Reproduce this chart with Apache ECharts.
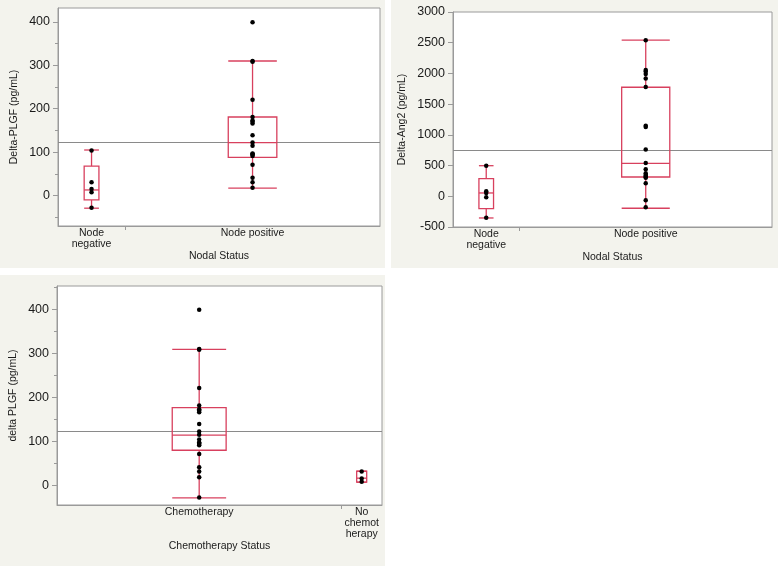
<!DOCTYPE html>
<html><head><meta charset="utf-8">
<script src="https://cdn.jsdelivr.net/npm/echarts@6/dist/echarts.min.js"></script>
<style>html,body{margin:0;padding:0;background:#fff}#c{width:778px;height:566px}</style>
</head><body><div id="c"></div>
<script>
// ---------- Panel 1: Delta-PLGF by nodal status ----------
const p1Categories = ['Node\nnegative', 'Node positive'];
const p1Counts = [5, 19];
const p1NegPoints = [104, 31, 15, 8, -28];
const p1PosPoints = [18, 31, 41, 71, 91, 94, 96, 97, 115, 122, 139, 166, 170, 173, 181, 221, 308, 310, 399];
// box stats: low whisker, q1, median, q3, high whisker
const p1NegBox = [-29, -10, 13, 68, 105];
const p1PosBox = [17, 88, 122, 181, 310];
const p1Mean = 123;
const p1YRange = [-70, 432];
const p1YMajor = [0, 100, 200, 300, 400];
const p1YMinor = [-50, 0, 50, 100, 150, 200, 250, 300, 350, 400];
const p1YTitle = 'Delta-PLGF (pg/mL)';
const p1XTitle = 'Nodal Status';

// ---------- Panel 2: Delta-Ang2 by nodal status ----------
const p2Categories = ['Node\nnegative', 'Node positive'];
const p2Counts = [5, 19];
const p2NegPoints = [497, 82, 54, -16, -350];
const p2PosPoints = [-180, -65, 211, 300, 314, 330, 347, 374, 439, 540, 760, 1129, 1150, 1780, 1916, 1992, 2030, 2057, 2540];
const p2NegBox = [-353, -202, 54, 287, 498];
const p2PosBox = [-195, 314, 537, 1775, 2541];
const p2Mean = 754;
const p2YRange = [-500, 3000];
const p2YMajor = [-500, 0, 500, 1000, 1500, 2000, 2500, 3000];
const p2YMinor = [];
const p2YTitle = 'Delta-Ang2 (pg/mL)';
const p2XTitle = 'Nodal Status';

// ---------- Panel 3: delta PLGF by chemotherapy status ----------
const p3Categories = ['Chemotherapy', 'No\nchemot\nherapy'];
const p3Counts = [21, 3];
const p3ChemoPoints = [-28, 18, 31, 41, 71, 91, 94, 96, 97, 104, 115, 122, 139, 166, 170, 173, 181, 221, 308, 310, 399];
const p3NoChemoPoints = [8, 15, 31];
const p3ChemoBox = [-29, 79.5, 114, 176.6, 309];
const p3NoChemoBox = [6.8, 6.8, 16, 31.8, 31.8];
const p3Mean = 123;
const p3YRange = [-45, 453];
const p3YMajor = [0, 100, 200, 300, 400];
const p3YMinor = [0, 50, 100, 150, 200, 250, 300, 350, 400, 450];
const p3YTitle = 'delta PLGF (pg/mL)';
const p3XTitle = 'Chemotherapy Status';

// ---------- styling / layout ----------
const RED = '#d8405e';
const AXIS_GRAY = '#9a9a9a';
const MEAN_GRAY = '#8a8a8a';
const TEXT = '#1a1a1a';
const FONT = '"Liberation Sans", Arial, Helvetica, sans-serif';
const PANEL_BG = '#f3f3ed';

const panels = [
  { cats: p1Categories, counts: p1Counts, points: [p1NegPoints, p1PosPoints], boxes: [p1NegBox, p1PosBox],
    mean: p1Mean, yRange: p1YRange, yMajor: p1YMajor, yMinor: p1YMinor, yName: p1YTitle, xName: p1XTitle,
    grid: { left: 58, top: 8, width: 322, height: 218 }, yNameGap: 38, xNameGap: 24 },
  { cats: p2Categories, counts: p2Counts, points: [p2NegPoints, p2PosPoints], boxes: [p2NegBox, p2PosBox],
    mean: p2Mean, yRange: p2YRange, yMajor: p2YMajor, yMinor: p2YMinor, yName: p2YTitle, xName: p2XTitle,
    grid: { left: 453, top: 12, width: 319, height: 215 }, yNameGap: 45, xNameGap: 24 },
  { cats: p3Categories, counts: p3Counts, points: [p3ChemoPoints, p3NoChemoPoints], boxes: [p3ChemoBox, p3NoChemoBox],
    mean: p3Mean, yRange: p3YRange, yMajor: p3YMajor, yMinor: p3YMinor, yName: p3YTitle, xName: p3XTitle,
    grid: { left: 57, top: 286, width: 325, height: 219 }, yNameGap: 38, xNameGap: 35 }
];

function boxRender(params, api) {
  const xc = api.value(0), n = api.value(6);
  const hw = (0.18 * n + 0.2) / 2;
  const xL = api.coord([xc - hw, 0])[0];
  const xR = api.coord([xc + hw, 0])[0];
  const xM = api.coord([xc, 0])[0];
  const y = (i) => api.coord([xc, api.value(i)])[1];
  const yLow = y(1), yQ1 = y(2), yMed = y(3), yQ3 = y(4), yHigh = y(5);
  const st = { stroke: RED, lineWidth: 1.3, fill: null };
  return {
    type: 'group',
    children: [
      { type: 'line', shape: { x1: xM, y1: yQ3, x2: xM, y2: yHigh }, style: st },
      { type: 'line', shape: { x1: xM, y1: yQ1, x2: xM, y2: yLow }, style: st },
      { type: 'line', shape: { x1: xL, y1: yHigh, x2: xR, y2: yHigh }, style: st },
      { type: 'line', shape: { x1: xL, y1: yLow, x2: xR, y2: yLow }, style: st },
      { type: 'rect', shape: { x: xL, y: yQ3, width: xR - xL, height: yQ1 - yQ3 }, style: st },
      { type: 'line', shape: { x1: xL, y1: yMed, x2: xR, y2: yMed }, style: st }
    ]
  };
}

const grids = [], xAxes = [], yAxes = [], series = [];
panels.forEach((p, i) => {
  const total = p.counts.reduce((a, b) => a + b, 0);
  const centers = [], bounds = [];
  let acc = 0;
  p.counts.forEach((c, k) => { centers.push(acc + c / 2); acc += c; if (k < p.counts.length - 1) bounds.push(acc); });

  grids.push(Object.assign({ show: true, backgroundColor: '#ffffff', borderColor: AXIS_GRAY, borderWidth: 1 }, p.grid));

  xAxes.push({
    gridIndex: i, type: 'value', min: 0, max: total, position: 'bottom',
    name: p.xName, nameLocation: 'middle', nameGap: p.xNameGap,
    nameTextStyle: { fontFamily: FONT, fontSize: 10.5, color: TEXT },
    axisLine: { show: true, onZero: false, lineStyle: { color: AXIS_GRAY } },
    axisTick: { show: true, customValues: bounds, length: 4, lineStyle: { color: AXIS_GRAY } },
    axisLabel: {
      show: true, customValues: centers, margin: 2,
      fontFamily: FONT, fontSize: 10.5, color: TEXT, lineHeight: 11, align: 'center',
      formatter: (v) => { const k = centers.findIndex(c => Math.abs(c - v) < 1e-6); return k >= 0 ? p.cats[k] : ''; }
    },
    splitLine: { show: false }
  });

  yAxes.push({
    gridIndex: i, type: 'value', min: p.yRange[0], max: p.yRange[1], position: 'left',
    name: p.yName, nameLocation: 'middle', nameGap: p.yNameGap,
    nameTextStyle: { fontFamily: FONT, fontSize: 10.5, color: TEXT },
    axisLine: { show: true, onZero: false, lineStyle: { color: AXIS_GRAY } },
    axisTick: { show: true, customValues: p.yMajor, length: 5, lineStyle: { color: AXIS_GRAY } },
    axisLabel: { show: true, customValues: p.yMajor, margin: 8, fontFamily: FONT, fontSize: 12.5, color: TEXT,
                 formatter: (v) => String(v) },
    splitLine: { show: false }
  });
  yAxes.push({
    gridIndex: i, type: 'value', min: p.yRange[0], max: p.yRange[1], position: 'left', offset: 0,
    axisLine: { show: false, onZero: false },
    axisTick: { show: p.yMinor.length > 0, customValues: p.yMinor.length ? p.yMinor : [p.yRange[0]], length: 3, lineStyle: { color: AXIS_GRAY } },
    axisLabel: { show: false },
    splitLine: { show: false }
  });

  const boxData = p.boxes.map((b, k) => [centers[k]].concat(b).concat([p.counts[k]]));
  series.push({
    type: 'custom', xAxisIndex: i, yAxisIndex: 2 * i, renderItem: boxRender,
    data: boxData, encode: { x: 0, y: [1, 2, 3, 4, 5] }, z: 3, silent: true
  });
  const pts = [];
  p.points.forEach((arr, k) => arr.forEach(v => pts.push([centers[k], v])));
  series.push({
    type: 'scatter', xAxisIndex: i, yAxisIndex: 2 * i, data: pts,
    symbol: 'circle', symbolSize: 4.5, itemStyle: { color: '#000000', opacity: 1 }, z: 4, silent: true,
    markLine: {
      silent: true, symbol: ['none', 'none'], label: { show: false }, z: 2,
      lineStyle: { color: MEAN_GRAY, type: 'solid', width: 1.2 },
      data: [{ yAxis: p.mean }]
    }
  });
});

const option = {
  animation: false,
  backgroundColor: '#ffffff',
  graphic: [
    { type: 'rect', z: -100, shape: { x: 0, y: 0, width: 385, height: 268 }, style: { fill: PANEL_BG } },
    { type: 'rect', z: -100, shape: { x: 391, y: 0, width: 387, height: 268 }, style: { fill: PANEL_BG } },
    { type: 'rect', z: -100, shape: { x: 0, y: 275, width: 385, height: 291 }, style: { fill: PANEL_BG } }
  ],
  grid: grids, xAxis: xAxes, yAxis: yAxes, series: series
};
const chart = echarts.init(document.getElementById('c'));
chart.setOption(option);
</script></body></html>
